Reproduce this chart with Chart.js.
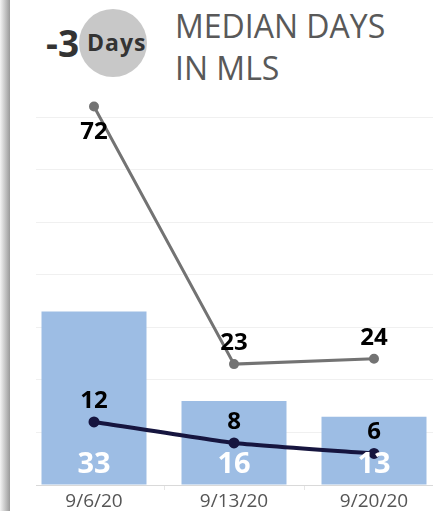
<!DOCTYPE html>
<html lang="en">
<head>
  <title>Median Days in MLS</title>
  <meta charset="utf-8">
  <script src="https://cdn.jsdelivr.net/npm/chart.js@4.4.1/dist/chart.umd.min.js"></script>
  <style>
    html, body {margin: 0; padding: 0; background: #fff; overflow: hidden;}
    body {width: 433px; height: 511px; position: relative; font-family: "Open Sans", sans-serif;}
    /* gray shadow strip on the left */
    .edge {position: absolute; left: 0; top: 0; width: 10px; height: 511px;
      background: linear-gradient(to right, #f4f4f4, #9a9a9a);}
    .mask {position: absolute; left: 10px; top: 90px; width: 26px; height: 400px; background: #fff;}
    .change {position: absolute; left: 46px; top: 19px; font-weight: bold; font-size: 37px; color: #333; line-height: 48px;}
    .circle {position: absolute; left: 79px; top: 9px; width: 68px; height: 68px; border-radius: 50%; background: #c8c8c8;}
    .unit {position: absolute; left: 87px; top: 27px; font-weight: bold; font-size: 23px; color: #333; line-height: 30px; letter-spacing: 1px;}
    .title {position: absolute; left: 175px; top: 5px; font-size: 32px; color: #595959; line-height: 42px;}
    #chartWrap {position: absolute; left: 16px; top: 0; width: 436px; height: 511px;}
  </style>
</head>
<body>

<div class="edge"></div>
<div class="circle"></div>
<div class="change">-3</div>
<div class="unit">Days</div>
<div class="title">MEDIAN DAYS<br>IN MLS</div>

<div id="chartWrap"><canvas id="mlsChart"></canvas></div>
<div class="mask"></div>

<script>
  // values
  const weeks = ["9/6/20", "9/13/20", "9/20/20"];
  const listings = [33, 16, 13];      // bars
  const maxDays = [72, 23, 24];       // gray line
  const medianDays = [12, 8, 6];      // navy line

  // draws the value labels (no datalabels plugin offline)
  const valueLabels = {
    id: "valueLabels",
    afterDatasetsDraw(chart) {
      const ctx = chart.ctx;
      const area = chart.chartArea;
      ctx.save();
      ctx.textAlign = "center";
      ctx.textBaseline = "middle";
      chart.data.datasets.forEach((ds, i) => {
        const meta = chart.getDatasetMeta(i);
        meta.data.forEach((el, j) => {
          const v = ds.data[j];
          if (ds.type === "bar") {
            ctx.font = "bold 29px 'Open Sans'";
            ctx.fillStyle = "#ffffff";
            ctx.fillText(v, el.x, el.base - 20);
          } else {
            ctx.font = "bold 24px 'Open Sans'";
            ctx.fillStyle = "#000000";
            let y = el.y - 21;
            if (y < area.top + 10) y = el.y + 26;
            ctx.fillText(v, el.x, y);
          }
        });
      });
      ctx.restore();
    }
  };

  new Chart("mlsChart", {
    data: {
      labels: weeks,
      datasets: [
        {
          type: "line",
          data: maxDays,
          borderColor: "#737373",
          backgroundColor: "#737373",
          borderWidth: 3,
          pointRadius: 3.5,
          tension: 0,
          order: 1
        },
        {
          type: "line",
          data: medianDays,
          borderColor: "#16153f",
          backgroundColor: "#16153f",
          borderWidth: 4,
          pointRadius: 3.5,
          tension: 0.15,
          order: 0
        },
        {
          type: "bar",
          data: listings,
          backgroundColor: "#9dbde4",
          categoryPercentage: 0.75,
          barPercentage: 1,
          order: 2
        }
      ]
    },
    options: {
      responsive: true,
      maintainAspectRatio: false,
      animation: false,
      layout: {padding: {top: 96, left: 0, right: 0, bottom: 0}},
      plugins: {legend: {display: false}, tooltip: {enabled: false}},
      scales: {
        x: {
          offset: true,
          grid: {drawOnChartArea: false, offset: true, tickLength: 5, color: "#e6e6e6"},
          border: {color: "#d9d9d9"},
          ticks: {color: "#555", font: {family: "Open Sans", size: 19}, padding: 0, maxRotation: 0},
          afterFit(scale) { scale.height = 26; }
        },
        y: {
          min: 0,
          max: 74,
          ticks: {display: false, stepSize: 10},
          border: {display: false},
          grid: {
            drawTicks: false,
            color: c => (c.tick && c.tick.value % 10 === 0 && c.tick.value > 0) ? "#f0f0f0" : "rgba(0,0,0,0)"
          },
          afterFit(scale) { scale.width = 0; }
        }
      }
    },
    plugins: [valueLabels]
  });
</script>
</body>
</html>
